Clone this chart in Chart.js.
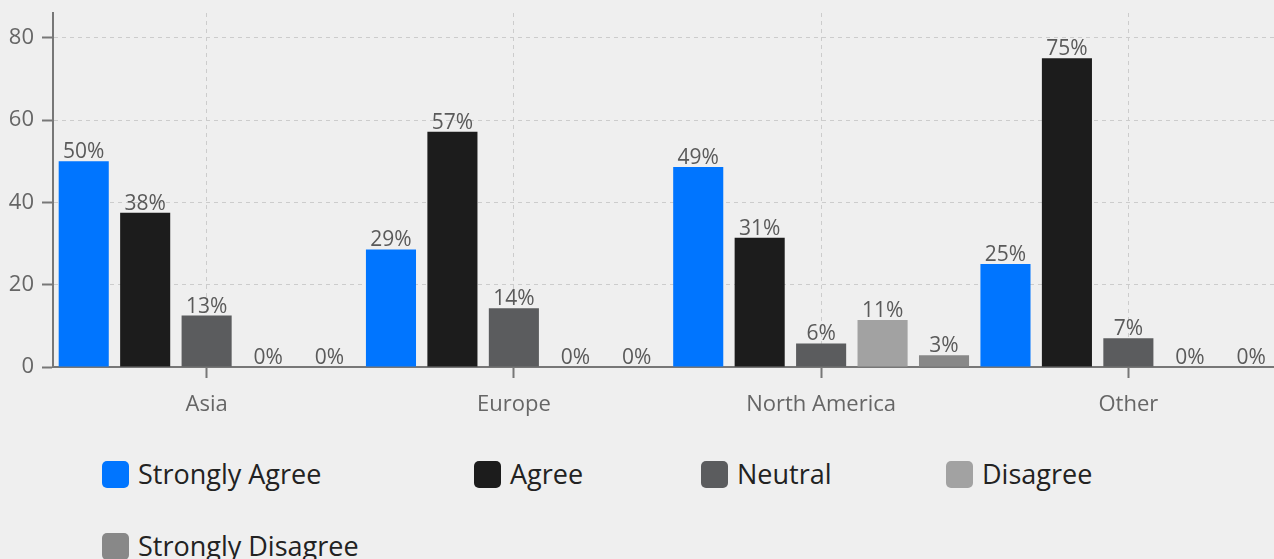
<!DOCTYPE html>
<html>
<head>
<meta charset="utf-8">
<script src="https://cdn.jsdelivr.net/npm/chart.js@4/dist/chart.umd.min.js"></script>
<style>
  html, body { margin: 0; padding: 0; background: #efefef; overflow: hidden; width: 1274px; height: 559px; }
  #wrap { position: absolute; left: 0; top: 0; width: 1292px; height: 440px; }
  #legend { position: absolute; left: 102px; top: 461px; display: grid;
            grid-template-columns: 372px 227px 245px auto; grid-auto-rows: 72px;
            font-family: "Open Sans", sans-serif; font-size: 27px; color: #222; }
  .item { display: flex; align-items: flex-start; height: 27px; white-space: nowrap; }
  .box { width: 27px; height: 27px; border-radius: 5px; margin-right: 9px; flex: none; }
  .lbl { line-height: 27px; margin-top: -1px; }
</style>
</head>
<body>
<div id="wrap"><canvas id="c"></canvas></div>
<div id="legend"></div>
<script>
const categories = ['Asia', 'Europe', 'North America', 'Other'];
const seriesNames = ['Strongly Agree', 'Agree', 'Neutral', 'Disagree', 'Strongly Disagree'];
const stronglyAgree = [50, 28.57, 48.57, 25];
const agree = [37.5, 57.14, 31.43, 75];
const neutral = [12.5, 14.29, 5.71, 7];
const disagree = [0, 0, 11.43, 0];
const stronglyDisagree = [0, 0, 2.86, 0];
const yTicks = [0, 20, 40, 60, 80];
const colors = ['#0075ff', '#1c1c1c', '#5b5c5e', '#a2a2a2', '#888888'];

const seriesValues = [stronglyAgree, agree, neutral, disagree, stronglyDisagree];

const dataLabels = {
  id: 'dataLabels',
  afterDatasetsDraw(chart) {
    const ctx = chart.ctx;
    ctx.save();
    ctx.font = '21px "Open Sans", sans-serif';
    ctx.fillStyle = '#5a5a5a';
    ctx.textAlign = 'center';
    ctx.textBaseline = 'alphabetic';
    chart.data.datasets.forEach((ds, i) => {
      const meta = chart.getDatasetMeta(i);
      meta.data.forEach((bar, j) => {
        ctx.fillText(Math.round(ds.data[j]) + '%', bar.x, bar.y - 3);
      });
    });
    ctx.restore();
  }
};

const chart = new Chart(document.getElementById('c'), {
  type: 'bar',
  data: {
    labels: categories,
    datasets: seriesNames.map((name, i) => ({
      label: name,
      data: seriesValues[i],
      backgroundColor: colors[i],
      borderWidth: 0,
      barPercentage: 0.815,
      categoryPercentage: 1.0
    }))
  },
  options: {
    responsive: true,
    maintainAspectRatio: false,
    animation: false,
    layout: { padding: { top: 13, right: 10, left: 0, bottom: 0 } },
    plugins: { legend: { display: false }, tooltip: { enabled: false } },
    scales: {
      x: {
        grid: { offset: false, color: '#cccccc', lineWidth: 1,
                tickLength: 11, tickColor: '#777777', tickWidth: 2, tickBorderDash: [] },
        border: { display: true, color: '#777777', width: 2, dash: [4, 4] },
        ticks: { color: '#666666', font: { family: '"Open Sans", sans-serif', size: 22 }, padding: 14 },
        afterFit(scale) { scale.height = 73; scale.paddingLeft = 0; scale.paddingRight = 0; }
      },
      y: {
        min: 0, max: 86,
        afterBuildTicks(scale) { scale.ticks = yTicks.map(v => ({ value: v })); },
        grid: { color: '#cccccc', lineWidth: 1,
                tickLength: 11, tickColor: '#777777', tickWidth: 2, tickBorderDash: [] },
        border: { display: true, color: '#777777', width: 2, dash: [4, 4] },
        ticks: { color: '#666666', font: { family: '"Open Sans", sans-serif', size: 22 }, padding: 8 },
        afterFit(scale) { scale.width = 53; scale.paddingTop = 0; scale.paddingBottom = 0; }
      }
    }
  },
  plugins: [dataLabels]
});

const legend = document.getElementById('legend');
seriesNames.forEach((name, i) => {
  const item = document.createElement('div');
  item.className = 'item';
  const box = document.createElement('span');
  box.className = 'box';
  box.style.background = colors[i];
  const lbl = document.createElement('span');
  lbl.className = 'lbl';
  lbl.textContent = name;
  item.appendChild(box);
  item.appendChild(lbl);
  legend.appendChild(item);
});
</script>
</body>
</html>
